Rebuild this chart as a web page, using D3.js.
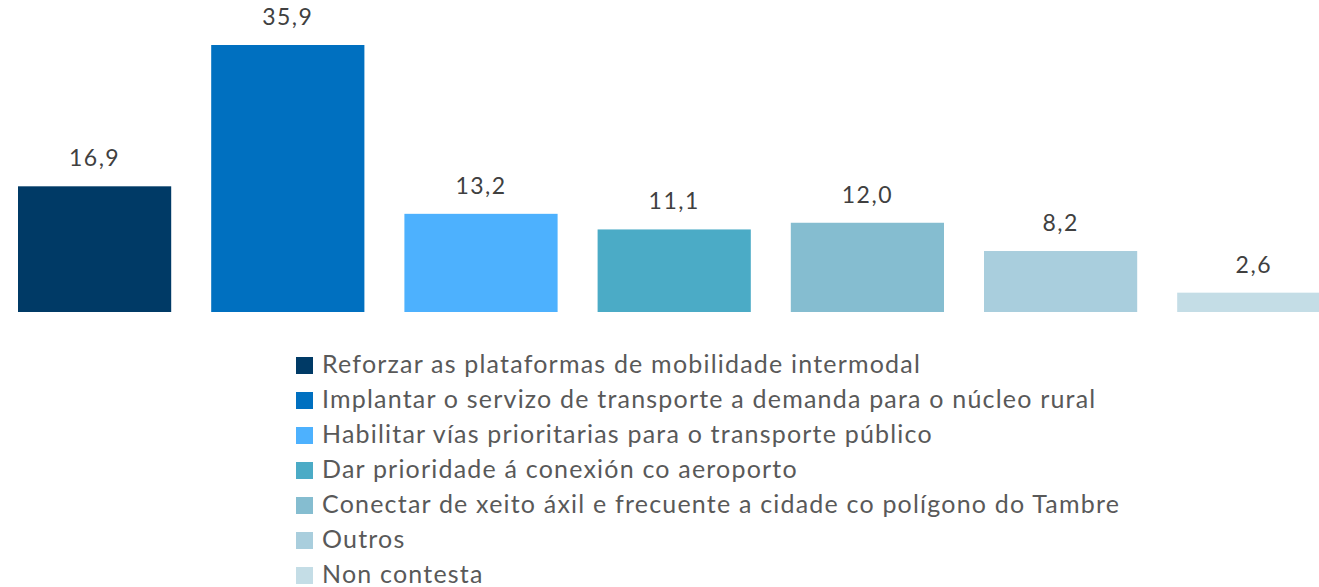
<!DOCTYPE html>
<html>
<head>
<meta charset="utf-8">
<script src="https://cdn.jsdelivr.net/npm/d3@7"></script>
<style>
  html, body { margin: 0; padding: 0; background: #fff; }
  svg { display: block; }
</style>
</head>
<body>
<div id="chart"></div>
<script>
// chart data
const categories = [
  "Reforzar as plataformas de mobilidade intermodal",
  "Implantar o servizo de transporte a demanda para o núcleo rural",
  "Habilitar vías prioritarias para o transporte público",
  "Dar prioridade á conexión co aeroporto",
  "Conectar de xeito áxil e frecuente a cidade co polígono do Tambre",
  "Outros",
  "Non contesta"
];
const values = [16.9, 35.9, 13.2, 11.1, 12.0, 8.2, 2.6];
const colors = ["#003A66", "#0070C0", "#4DB1FE", "#4BABC6", "#85BDD0", "#A9CEDD", "#C4DDE6"];

const width = 1319, height = 587;
const baseY = 312;

const svg = d3.select("#chart").append("svg")
    .attr("width", width)
    .attr("height", height);

const x = d3.scaleBand()
    .domain(categories)
    .range([-2, -2 + 193.2 * categories.length])
    .paddingInner(40 / 193.2)
    .paddingOuter(20 / 193.2);

const y = d3.scaleLinear()
    .domain([0, 35.9])
    .range([baseY, 45]);

const fmt = v => d3.format(".1f")(v).replace(".", ",");

// bars
svg.append("g")
  .selectAll("rect")
  .data(values)
  .join("rect")
    .attr("x", (d, i) => x(categories[i]))
    .attr("y", d => y(d))
    .attr("width", x.bandwidth())
    .attr("height", d => baseY - y(d))
    .attr("fill", (d, i) => colors[i]);

// value labels
svg.append("g")
  .selectAll("text")
  .data(values)
  .join("text")
    .attr("x", (d, i) => x(categories[i]) + x.bandwidth() / 2)
    .attr("y", d => y(d) - 20)
    .attr("text-anchor", "middle")
    .attr("font-family", "Lato, 'Open Sans', sans-serif")
    .attr("font-size", "23px")
    .attr("letter-spacing", "1.5px")
    .attr("fill", "#404040")
    .text(d => fmt(d));

// legend
const legend = svg.append("g")
  .selectAll("g")
  .data(categories)
  .join("g")
    .attr("transform", (d, i) => `translate(296,${357 + i * 35})`);

legend.append("rect")
    .attr("width", 17)
    .attr("height", 17)
    .attr("fill", (d, i) => colors[i]);

legend.append("text")
    .attr("x", 26)
    .attr("y", 15.5)
    .attr("font-family", "Lato, 'Open Sans', sans-serif")
    .attr("font-size", "25px")
    .attr("letter-spacing", "1.2px")
    .attr("fill", "#595959")
    .text(d => d);
</script>
</body>
</html>
